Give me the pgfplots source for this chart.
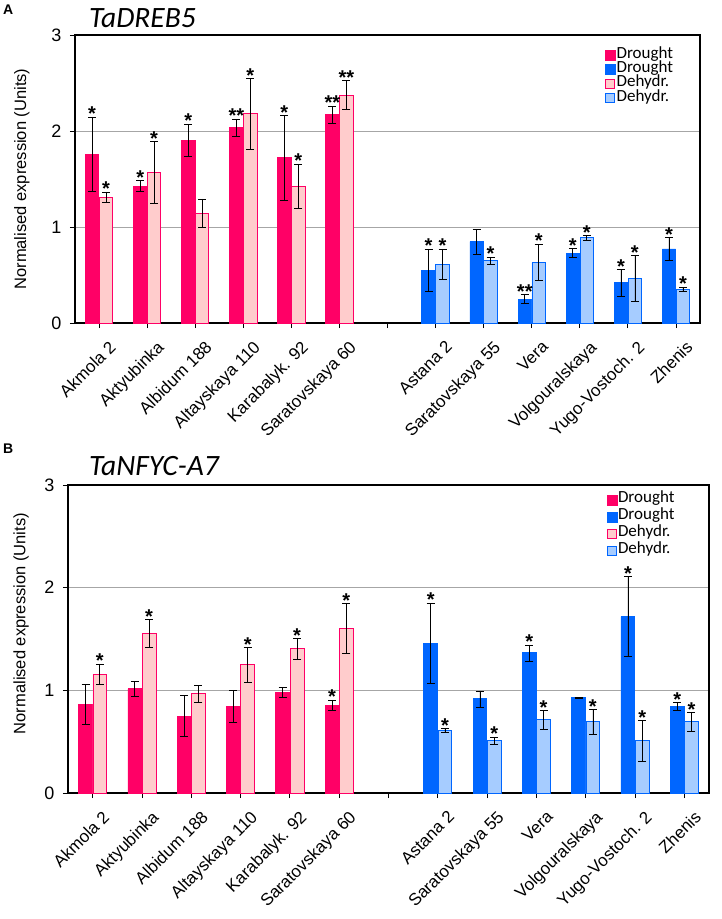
\documentclass[border=0pt]{standalone}
\usepackage{pgfplots}
\pgfplotsset{compat=1.18}
\usepackage{pgfplotstable}
\usepackage{fontspec}
\setmainfont{Liberation Sans}
\newfontfamily\carlito{Carlito}
\definecolor{pinkdark}{RGB}{255,0,102}
\definecolor{pinklight}{RGB}{255,204,204}
\definecolor{bluedark}{RGB}{0,102,255}
\definecolor{bluelight}{RGB}{166,204,255}

% Panel A
\pgfplotstableread{
x y err s
0 1.757 0.39 *
1 1.427 0.06 *
2 1.906 0.165 *
3 2.035 0.09 **
4 1.72 0.44 *
5 2.17 0.09 **
}\aPD
\pgfplotstableread{
x y err s
0 1.309 0.057 *
1 1.57 0.32 *
2 1.142 0.15 {}
3 2.18 0.37 *
4 1.427 0.23 *
5 2.375 0.15 **
}\aPH
\pgfplotstableread{
x y err s
7 0.552 0.22 *
8 0.847 0.13 {}
9 0.25 0.05 **
10 0.729 0.045 *
11 0.42 0.14 *
12 0.771 0.12 *
}\aBD
\pgfplotstableread{
x y err s
7 0.611 0.16 *
8 0.649 0.04 *
9 0.632 0.19 *
10 0.889 0.025 *
11 0.465 0.24 *
12 0.354 0.02 *
}\aBH
% Panel B
\pgfplotstableread{
x y err s
0 0.866 0.195 {}
1 1.015 0.07 {}
2 0.749 0.2 {}
3 0.843 0.157 {}
4 0.982 0.05 {}
5 0.856 0.05 *
}\bPD
\pgfplotstableread{
x y err s
0 1.157 0.1 *
1 1.556 0.135 *
2 0.966 0.08 {}
3 1.248 0.17 *
4 1.404 0.1 *
5 1.605 0.24 *
}\bPH
\pgfplotstableread{
x y err s
7 1.459 0.39 *
8 0.917 0.078 {}
9 1.365 0.078 *
10 0.93 0.005 {}
11 1.718 0.39 *
12 0.843 0.036 *
}\bBD
\pgfplotstableread{
x y err s
7 0.609 0.022 *
8 0.509 0.035 *
9 0.713 0.09 *
10 0.694 0.12 *
11 0.509 0.196 *
12 0.694 0.09 *
}\bBH

\pgfplotsset{
  panel/.style={
    scale only axis, xmin=-0.5, xmax=12.5, ymin=0, ymax=3,
    xtick={0,...,12},
    xticklabels={Akmola 2, Aktyubinka, Albidum 188, Altayskaya 110, Karabalyk. 92, Saratovskaya 60, {}, Astana 2, Saratovskaya 55, Vera, Volgouralskaya, Yugo-Vostoch. 2, Zhenis},
    ytick={0,1,2,3},
    tick pos=left, tick align=outside, major tick length=5pt,
    tick style={black, line width=0.8pt},
    axis line style={black, line width=1.2pt},
    ymajorgrids, grid style={gray!70, line width=0.7pt},
    /pgf/number format/assume math mode=true,
    yticklabel style={font=\fontsize{18}{18}\selectfont, xshift=-5pt},
    xticklabel style={font=\fontsize{17}{17}\selectfont, xshift=9pt, yshift=-10pt, rotate=45, anchor=north east, inner sep=1pt},
    ylabel={Normalised expression (Units)},
    ylabel style={font=\fontsize{16.5}{16.5}\selectfont, anchor=center},
    legend cell align=left,
    clip=false,
  },
  barsty/.style n args={2}{ybar, bar width=0.28, bar shift=0pt, fill=#1, draw=#2, line width=0.8pt,
    error bars/y dir=both, error bars/y explicit,
    error bars/error bar style={black, line width=0.7pt},
    error bars/error mark options={rotate=90, mark size=4pt, black, line width=0.7pt}},
  starsty/.style={draw=none, mark=none, nodes near coords, point meta=explicit symbolic,
    every node near coord/.style={anchor=south, inner sep=0pt, yshift=-4pt, font=\bfseries\fontsize{20}{20}\selectfont, black}},
}

\begin{document}
\begin{tikzpicture}
\path[use as bounding box] (0,0) rectangle (721pt,-919pt);

% ---------- Panel A ----------
\node[anchor=north west, inner sep=0pt, font=\bfseries\fontsize{14}{14}\selectfont] at (3pt,-5pt) {A};
\node[anchor=base west, inner sep=0pt, font=\carlito\itshape\fontsize{29.5}{29.5}\selectfont] at (89pt,-27pt) {TaDREB5};
\begin{axis}[panel, at={(75pt,-323pt)}, anchor=south west, width=625pt, height=288pt,
  ylabel style={at={(axis description cs:-0.085,0.5)}},
  legend style={at={(axis description cs:0.848,0.955)}, anchor=north west, draw=none, fill=none,
    inner sep=0pt, row sep=0.3pt, font=\carlito\fontsize{17}{17}\selectfont,
    nodes={inner sep=1pt, text height=9pt, text depth=3pt}}]
\addlegendimage{legend image code/.code={\draw[fill=pinkdark, draw=pinkdark] (0pt,-5pt) rectangle (10pt,5pt);}}
\addlegendentry{Drought}
\addlegendimage{legend image code/.code={\draw[fill=bluedark, draw=bluedark] (0pt,-5pt) rectangle (10pt,5pt);}}
\addlegendentry{Drought}
\addlegendimage{legend image code/.code={\draw[fill=pinklight, draw=pinkdark, line width=1pt] (0.5pt,-4.5pt) rectangle (9.5pt,4.5pt);}}
\addlegendentry{Dehydr.}
\addlegendimage{legend image code/.code={\draw[fill=bluelight, draw=bluedark, line width=1pt] (0.5pt,-4.5pt) rectangle (9.5pt,4.5pt);}}
\addlegendentry{Dehydr.}

\addplot[forget plot, barsty={pinkdark}{pinkdark}] table[x expr=\thisrow{x}-0.145, y=y, y error=err] {\aPD};
\addplot[forget plot, barsty={pinklight}{pinkdark}] table[x expr=\thisrow{x}+0.145, y=y, y error=err] {\aPH};
\addplot[forget plot, barsty={bluedark}{bluedark}] table[x expr=\thisrow{x}-0.145, y=y, y error=err] {\aBD};
\addplot[forget plot, barsty={bluelight}{bluedark}] table[x expr=\thisrow{x}+0.145, y=y, y error=err] {\aBH};

\addplot[forget plot, starsty] table[x expr=\thisrow{x}-0.145, y expr=\thisrow{y}+\thisrow{err}, meta=s] {\aPD};
\addplot[forget plot, starsty] table[x expr=\thisrow{x}+0.145, y expr=\thisrow{y}+\thisrow{err}, meta=s] {\aPH};
\addplot[forget plot, starsty] table[x expr=\thisrow{x}-0.145, y expr=\thisrow{y}+\thisrow{err}, meta=s] {\aBD};
\addplot[forget plot, starsty] table[x expr=\thisrow{x}+0.145, y expr=\thisrow{y}+\thisrow{err}, meta=s] {\aBH};
\end{axis}

% ---------- Panel B ----------
\node[anchor=north west, inner sep=0pt, font=\bfseries\fontsize{14}{14}\selectfont] at (3pt,-444pt) {B};
\node[anchor=base west, inner sep=0pt, font=\carlito\itshape\fontsize{29.5}{29.5}\selectfont] at (89pt,-475pt) {TaNFYC-A7};
\begin{axis}[panel, at={(68pt,-793pt)}, anchor=south west, width=641pt, height=308pt,
  ylabel style={at={(axis description cs:-0.073,0.55)}},
  legend style={at={(axis description cs:0.84,0.975)}, anchor=north west, draw=none, fill=none,
    inner sep=0pt, row sep=3pt, font=\carlito\fontsize{17}{17}\selectfont,
    nodes={inner sep=1pt, text height=9pt, text depth=3pt}}]
\addlegendimage{legend image code/.code={\draw[fill=pinkdark, draw=pinkdark] (0pt,-5pt) rectangle (10pt,5pt);}}
\addlegendentry{Drought}
\addlegendimage{legend image code/.code={\draw[fill=bluedark, draw=bluedark] (0pt,-5pt) rectangle (10pt,5pt);}}
\addlegendentry{Drought}
\addlegendimage{legend image code/.code={\draw[fill=pinklight, draw=pinkdark, line width=1pt] (0.5pt,-4.5pt) rectangle (9.5pt,4.5pt);}}
\addlegendentry{Dehydr.}
\addlegendimage{legend image code/.code={\draw[fill=bluelight, draw=bluedark, line width=1pt] (0.5pt,-4.5pt) rectangle (9.5pt,4.5pt);}}
\addlegendentry{Dehydr.}

\addplot[forget plot, barsty={pinkdark}{pinkdark}] table[x expr=\thisrow{x}-0.145, y=y, y error=err] {\bPD};
\addplot[forget plot, barsty={pinklight}{pinkdark}] table[x expr=\thisrow{x}+0.145, y=y, y error=err] {\bPH};
\addplot[forget plot, barsty={bluedark}{bluedark}] table[x expr=\thisrow{x}-0.145, y=y, y error=err] {\bBD};
\addplot[forget plot, barsty={bluelight}{bluedark}] table[x expr=\thisrow{x}+0.145, y=y, y error=err] {\bBH};

\addplot[forget plot, starsty] table[x expr=\thisrow{x}-0.145, y expr=\thisrow{y}+\thisrow{err}, meta=s] {\bPD};
\addplot[forget plot, starsty] table[x expr=\thisrow{x}+0.145, y expr=\thisrow{y}+\thisrow{err}, meta=s] {\bPH};
\addplot[forget plot, starsty] table[x expr=\thisrow{x}-0.145, y expr=\thisrow{y}+\thisrow{err}, meta=s] {\bBD};
\addplot[forget plot, starsty] table[x expr=\thisrow{x}+0.145, y expr=\thisrow{y}+\thisrow{err}, meta=s] {\bBH};
\end{axis}
\end{tikzpicture}
\end{document}
